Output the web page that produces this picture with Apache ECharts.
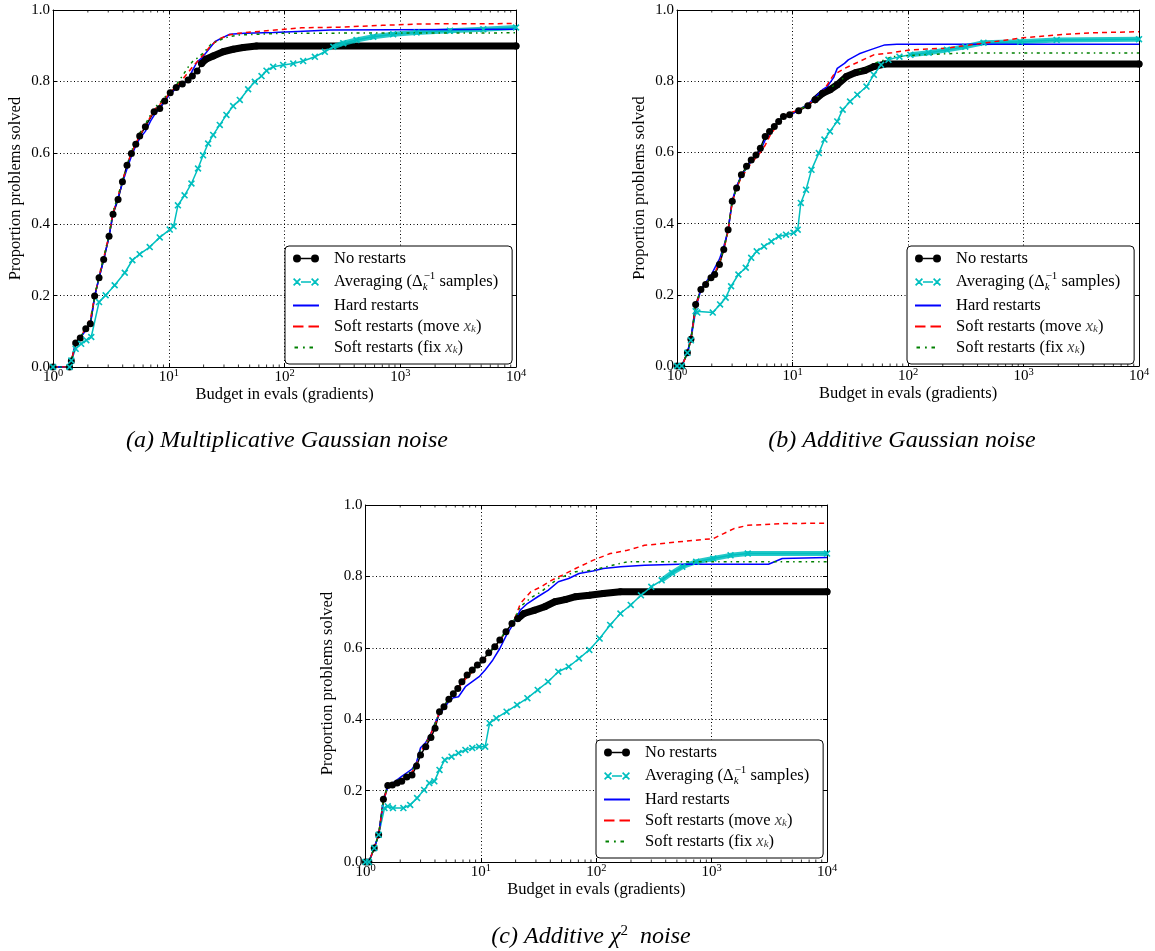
<!DOCTYPE html>
<html><head><meta charset="utf-8">
<script src="https://cdn.jsdelivr.net/npm/echarts@6/dist/echarts.min.js"></script>
<style>html,body{margin:0;padding:0;background:#fff}#c{width:1155px;height:951px}</style>
</head><body><div id="c"></div>
<script>
// ---------------- DATA ----------------
const seriesNames = ['No restarts', 'Averaging', 'Hard restarts', 'Soft restarts (move)', 'Soft restarts (fix)'];
const yTickLabels = ['0.0', '0.2', '0.4', '0.6', '0.8', '1.0'];
const captions = ['(a) Multiplicative Gaussian noise', '(b) Additive Gaussian noise', '(c) Additive χ2 noise'];
const xAxisTitle = 'Budget in evals (gradients)';
const yAxisTitle = 'Proportion problems solved';
const minorTickMultipliers = [2, 3, 4, 5, 6, 7, 8, 9];
const decades = [1, 10, 100, 1000];

// (a) Multiplicative Gaussian noise
const noRestartsA = [[1,0],[1.39,0],[1.44,0.017],[1.57,0.067],[1.72,0.081],[1.92,0.107],[2.10,0.121],[2.29,0.199],[2.50,0.250],[2.74,0.301],[3.05,0.366],[3.30,0.428],[3.65,0.469],[3.98,0.519],[4.36,0.565],[4.76,0.598],[5.19,0.624],[5.61,0.647],[6.28,0.673],[7.47,0.715],[8.36,0.724],[9.23,0.745],[10.3,0.768],[11.6,0.783],[13.1,0.793],[14.7,0.804],[16.0,0.815],[17.6,0.829],[19.2,0.850],[20.9,0.862],[24.2,0.871],[29.5,0.883],[36.0,0.890],[44.0,0.895],[57.3,0.899],[10000,0.899]];
const averagingA = [[1,0],[1.39,0],[1.44,0.018],[1.57,0.051],[1.75,0.065],[1.94,0.075],[2.14,0.084],[2.50,0.182],[2.85,0.201],[3.41,0.229],[4.17,0.264],[4.85,0.299],[5.61,0.316],[6.85,0.336],[8.36,0.363],[10.2,0.385],[11.0,0.394],[12.0,0.453],[13.7,0.481],[15.7,0.514],[17.9,0.556],[19.8,0.593],[21.9,0.626],[24.2,0.650],[27.6,0.678],[31.5,0.706],[36.0,0.731],[41.1,0.748],[48.5,0.778],[55.4,0.799],[63.3,0.815],[69.9,0.830],[79.8,0.841],[97.3,0.846],[119,0.850],[145,0.857],[183,0.869],[223,0.883],[264,0.897],[322,0.907],[419,0.916],[584,0.925],[869,0.932],[1384,0.937],[2688,0.942],[5220,0.946],[10000,0.951]];
const hardA = [[1,0],[1.39,0],[1.45,0.02],[1.57,0.065],[1.75,0.085],[1.95,0.105],[2.12,0.125],[2.3,0.2],[2.5,0.25],[2.74,0.3],[3.05,0.365],[3.3,0.43],[3.65,0.475],[3.98,0.515],[4.36,0.555],[4.76,0.59],[5.19,0.62],[5.61,0.64],[6.28,0.66],[7.0,0.69],[7.47,0.705],[8.36,0.725],[9.23,0.745],[10.3,0.765],[11.6,0.78],[13.1,0.79],[14.7,0.805],[16.0,0.83],[17.6,0.855],[19.2,0.865],[21,0.88],[25,0.911],[28,0.92],[33.7,0.932],[45,0.935],[80,0.937],[130,0.94],[250,0.944],[10000,0.946]];
const softMoveA = [[1,0],[1.39,0],[1.45,0.02],[1.57,0.07],[1.75,0.09],[1.95,0.11],[2.12,0.14],[2.3,0.2],[2.5,0.255],[2.74,0.305],[3.05,0.37],[3.3,0.43],[3.65,0.48],[3.98,0.52],[4.36,0.565],[4.76,0.6],[5.19,0.625],[5.61,0.65],[6.28,0.675],[7.47,0.72],[8.36,0.735],[9.23,0.75],[10.3,0.77],[11.6,0.785],[13.1,0.805],[14.7,0.825],[16.0,0.84],[17.6,0.855],[20,0.875],[23,0.9],[27,0.918],[33,0.93],[40,0.935],[60,0.94],[90,0.945],[140,0.95],[300,0.952],[700,0.957],[1500,0.961],[10000,0.962]];
const softFixA = [[1,0],[1.39,0],[1.45,0.02],[1.57,0.068],[1.75,0.088],[1.95,0.108],[2.12,0.13],[2.3,0.2],[2.5,0.255],[2.74,0.305],[3.05,0.37],[3.3,0.435],[3.65,0.48],[3.98,0.52],[4.36,0.565],[4.76,0.605],[5.19,0.63],[5.61,0.655],[6.28,0.68],[7.47,0.725],[8.36,0.74],[9.23,0.755],[10.3,0.775],[11.6,0.79],[13.1,0.815],[14.7,0.84],[16.0,0.855],[17.6,0.865],[20,0.88],[23,0.903],[27,0.915],[33,0.925],[40,0.93],[60,0.932],[100,0.935],[10000,0.936]];

// (b) Additive Gaussian noise
const noRestartsB = [[1,0],[1.10,0],[1.23,0.037],[1.32,0.075],[1.45,0.173],[1.61,0.215],[1.77,0.229],[1.97,0.248],[2.12,0.257],[2.33,0.285],[2.54,0.327],[2.77,0.383],[3.01,0.463],[3.28,0.500],[3.61,0.537],[4.00,0.561],[4.39,0.579],[4.83,0.593],[5.27,0.612],[5.80,0.645],[6.33,0.659],[6.96,0.673],[7.59,0.687],[8.35,0.701],[9.45,0.706],[11.3,0.717],[13.6,0.731],[15.7,0.748],[18.2,0.766],[21.1,0.776],[24.4,0.790],[29.3,0.813],[35.1,0.824],[42.2,0.830],[50.6,0.841],[62.9,0.848],[10000,0.848]];
const averagingB = [[1,0],[1.10,0],[1.23,0.037],[1.32,0.072],[1.45,0.154],[1.50,0.15],[2.04,0.15],[2.36,0.173],[2.64,0.192],[2.94,0.224],[3.40,0.257],[3.94,0.276],[4.39,0.304],[4.90,0.322],[5.67,0.336],[6.56,0.350],[7.59,0.364],[8.79,0.369],[10.2,0.374],[11.1,0.383],[11.8,0.458],[13.1,0.495],[14.6,0.551],[16.9,0.598],[18.9,0.636],[21.1,0.659],[24.4,0.687],[27.2,0.720],[31.5,0.743],[36.4,0.762],[43.7,0.785],[50.6,0.818],[58.5,0.846],[67.7,0.860],[84.3,0.869],[105,0.874],[151,0.880],[217,0.888],[313,0.897],[451,0.908],[935,0.911],[1937,0.916],[10000,0.918]];
const hardB = [[1,0],[1.10,0],[1.23,0.037],[1.32,0.08],[1.45,0.16],[1.61,0.215],[1.77,0.235],[1.97,0.255],[2.12,0.275],[2.33,0.3],[2.54,0.336],[2.77,0.38],[3.01,0.465],[3.28,0.505],[3.61,0.535],[4.00,0.555],[4.39,0.575],[4.83,0.59],[5.27,0.605],[5.80,0.635],[6.33,0.65],[6.96,0.67],[7.59,0.69],[8.35,0.7],[9.45,0.703],[11.3,0.72],[13.6,0.735],[15.7,0.755],[18.2,0.776],[20,0.785],[22.7,0.81],[24.4,0.836],[28.2,0.85],[30.4,0.86],[37.8,0.877],[47.0,0.888],[62.9,0.902],[80,0.904],[10000,0.904]];
const softMoveB = [[1,0],[1.10,0],[1.23,0.035],[1.32,0.075],[1.45,0.165],[1.61,0.215],[1.77,0.232],[1.97,0.25],[2.12,0.262],[2.33,0.29],[2.54,0.325],[2.77,0.38],[3.01,0.46],[3.28,0.5],[3.61,0.53],[4.00,0.55],[4.39,0.57],[4.83,0.585],[5.27,0.6],[5.80,0.62],[6.33,0.645],[6.96,0.665],[7.59,0.685],[8.35,0.7],[9.45,0.71],[11.3,0.72],[13.6,0.733],[15.7,0.75],[18.2,0.77],[20,0.79],[22.7,0.818],[28.2,0.836],[37.8,0.855],[50.6,0.874],[72.8,0.880],[105,0.888],[217,0.893],[451,0.907],[935,0.921],[1937,0.930],[4018,0.936],[10000,0.939]];
const softFixB = [[1,0],[1.10,0],[1.23,0.037],[1.32,0.075],[1.45,0.17],[1.61,0.215],[1.77,0.23],[1.97,0.25],[2.12,0.26],[2.33,0.29],[2.54,0.33],[2.77,0.385],[3.01,0.465],[3.28,0.5],[3.61,0.535],[4.00,0.557],[4.39,0.575],[4.83,0.59],[5.27,0.61],[5.80,0.64],[6.33,0.655],[6.96,0.672],[7.59,0.688],[8.35,0.7],[9.45,0.708],[11.3,0.72],[13.6,0.733],[15.7,0.75],[18.2,0.768],[21.1,0.78],[24.4,0.795],[29.3,0.815],[35.1,0.826],[42.2,0.835],[50.6,0.85],[62.9,0.86],[72.8,0.869],[151,0.875],[300,0.879],[10000,0.879]];

// (c) Additive chi^2 noise
const noRestartsC = [[1,0],[1.07,0],[1.19,0.039],[1.30,0.076],[1.43,0.176],[1.56,0.214],[1.71,0.216],[1.88,0.221],[2.06,0.226],[2.28,0.238],[2.53,0.244],[2.77,0.269],[3.00,0.300],[3.33,0.323],[3.69,0.349],[4.01,0.375],[4.38,0.421],[4.79,0.435],[5.28,0.456],[5.77,0.471],[6.31,0.486],[6.85,0.505],[7.60,0.524],[8.42,0.538],[9.33,0.552],[10.4,0.566],[11.7,0.586],[13.2,0.603],[14.6,0.622],[16.5,0.645],[18.6,0.668],[20.9,0.682],[23.6,0.696],[29.0,0.705],[35.7,0.715],[43.8,0.729],[53.8,0.735],[66.2,0.743],[87.1,0.747],[115,0.752],[162,0.757],[10000,0.757]];
const averagingC = [[1,0],[1.07,0],[1.19,0.039],[1.30,0.076],[1.46,0.151],[1.56,0.156],[1.73,0.151],[2.13,0.151],[2.44,0.160],[2.80,0.179],[3.22,0.202],[3.57,0.221],[3.95,0.226],[4.38,0.258],[4.86,0.286],[5.57,0.295],[6.40,0.305],[7.34,0.314],[8.42,0.319],[9.66,0.323],[10.9,0.323],[11.9,0.389],[13.6,0.403],[16.7,0.421],[20.6,0.440],[25.3,0.459],[31.1,0.482],[38.2,0.505],[46.9,0.533],[57.7,0.547],[70.9,0.570],[87.1,0.594],[107,0.626],[132,0.664],[162,0.696],[199,0.720],[244,0.747],[300,0.771],[369,0.789],[454,0.810],[557,0.827],[734,0.841],[1035,0.850],[1459,0.859],[2057,0.864],[10000,0.864]];
const hardC = [[1,0],[1.07,0],[1.19,0.039],[1.30,0.076],[1.43,0.17],[1.56,0.21],[1.71,0.22],[1.88,0.23],[2.06,0.24],[2.28,0.25],[2.53,0.26],[2.77,0.28],[3.00,0.32],[3.33,0.335],[3.69,0.36],[4.01,0.39],[4.38,0.415],[4.79,0.43],[5.28,0.45],[5.77,0.46],[6.40,0.463],[7.34,0.491],[8.42,0.505],[9.66,0.519],[10.9,0.538],[12.7,0.566],[14.6,0.598],[16.7,0.636],[19.2,0.668],[22.0,0.706],[25.3,0.724],[31.1,0.743],[38.2,0.761],[46.9,0.785],[57.7,0.794],[70.9,0.808],[93.3,0.815],[115,0.822],[162,0.827],[262,0.831],[520,0.834],[3112,0.834],[4093,0.850],[10000,0.853]];
const softMoveC = [[1,0],[1.07,0],[1.19,0.039],[1.30,0.076],[1.43,0.17],[1.56,0.212],[1.71,0.215],[1.88,0.222],[2.06,0.232],[2.28,0.242],[2.53,0.252],[2.77,0.275],[3.00,0.31],[3.33,0.33],[3.69,0.36],[4.01,0.385],[4.38,0.42],[4.79,0.435],[5.28,0.455],[5.77,0.47],[6.31,0.485],[6.85,0.5],[7.60,0.518],[8.42,0.532],[9.33,0.548],[10.4,0.562],[11.7,0.58],[13.2,0.6],[14.6,0.62],[16.5,0.645],[19.2,0.672],[22.0,0.724],[27.1,0.757],[33.3,0.771],[40.9,0.789],[50.3,0.803],[66.2,0.822],[93.3,0.845],[132,0.864],[186,0.873],[262,0.887],[520,0.897],[1035,0.906],[1271,0.920],[1563,0.934],[2057,0.943],[4093,0.948],[10000,0.949]];
const softFixC = [[1,0],[1.07,0],[1.19,0.039],[1.30,0.076],[1.43,0.172],[1.56,0.215],[1.71,0.22],[1.88,0.228],[2.06,0.235],[2.28,0.245],[2.53,0.255],[2.77,0.278],[3.00,0.315],[3.33,0.333],[3.69,0.36],[4.01,0.388],[4.38,0.42],[4.79,0.438],[5.28,0.458],[5.77,0.472],[6.31,0.488],[6.85,0.502],[7.60,0.52],[8.42,0.535],[9.33,0.55],[10.4,0.565],[11.7,0.583],[13.2,0.603],[14.6,0.623],[16.5,0.648],[19.2,0.675],[22.0,0.715],[27.1,0.74],[33.3,0.757],[40.9,0.78],[46.9,0.794],[66.2,0.813],[93.3,0.817],[115,0.825],[186,0.841],[10000,0.841]];

// ---------------- CHART ----------------
const FONT = 'Liberation Serif';
const panels = [
  { grid: {left: 53, top: 10, width: 463, height: 357}, legend: {left: 285, top: 246}, denseBlack: 18, denseCyan: 250,
    data: [noRestartsA, averagingA, hardA, softMoveA, softFixA] },
  { grid: {left: 677, top: 10, width: 462, height: 356}, legend: {left: 907, top: 246}, denseBlack: 15, denseCyan: 100,
    data: [noRestartsB, averagingB, hardB, softMoveB, softFixB] },
  { grid: {left: 365.5, top: 505, width: 461.5, height: 357}, legend: {left: 596, top: 740}, denseBlack: 19, denseCyan: 350,
    data: [noRestartsC, averagingC, hardC, softMoveC, softFixC] }
];
const colors = ['#000000', '#00bfbf', '#0000ff', '#ff0000', '#008000'];
const minorTicks = decades.flatMap(d => minorTickMultipliers.map(m => m * d));
const X_MARK = 'path://M0,1.3L1.3,0L8,6.7L6.7,8Z M6.7,0L8,1.3L1.3,8L0,6.7Z';
const DOT = 'M0,0h0.02v0.02h-0.02Z M0,7.98h0.02v0.02h-0.02Z M26,7.98h0.02v0.02h-0.02Z ';
const icons = [
  'path://M0,4A4,4,0,1,1,8,4A4,4,0,1,1,0,4Z M8,3.2H18V4.8H8Z M18,4A4,4,0,1,1,26,4A4,4,0,1,1,18,4Z',
  'path://M0,1.2L1.2,0L8,6.8L6.8,8Z M6.8,0L8,1.2L1.2,8L0,6.8Z M8,3.25H18V4.75H8Z M18,1.2L19.2,0L26,6.8L24.8,8Z M24.8,0L26,1.2L19.2,8L18,6.8Z',
  'path://' + DOT + 'M0,3.1H26V4.9H0Z',
  'path://' + DOT + 'M0,3.1H10.5V4.9H0Z M15.5,3.1H26V4.9H15.5Z',
  'path://' + DOT + 'M1.5,3.1H5V4.9H1.5Z M10,3.1H11.8V4.9H10Z M16.5,3.1H20V4.9H16.5Z'
];
const legendText = {
  'No restarts': '{t|No restarts}',
  'Averaging': '{t2|Averaging (Δ}{sub|k}{sup|−1}{t2| samples)}',
  'Hard restarts': '{t|Hard restarts}',
  'Soft restarts (move)': '{t|Soft restarts (move }{mi|x}{mis|k}{t|)}',
  'Soft restarts (fix)': '{t|Soft restarts (fix }{mi|x}{mis|k}{t|)}'
};
const legendRich = {
  t: {fontFamily: FONT, fontSize: 16.5, lineHeight: 16, color: '#000'},
  t2: {fontFamily: FONT, fontSize: 16.5, lineHeight: 22, color: '#000'},
  sub: {fontFamily: FONT, fontSize: 11, fontStyle: 'italic', lineHeight: 9, verticalAlign: 'bottom', width: 1, color: '#000'},
  sup: {fontFamily: FONT, fontSize: 11, lineHeight: 9, verticalAlign: 'top', color: '#000'},
  mi: {fontFamily: FONT, fontSize: 16.5, fontStyle: 'italic', lineHeight: 16, color: '#444'},
  mis: {fontFamily: FONT, fontSize: 11, fontStyle: 'italic', lineHeight: 7, verticalAlign: 'bottom', color: '#444'}
};
const capRich = {
  i: {fontFamily: FONT, fontSize: 24, fontStyle: 'italic', fontWeight: 'normal', color: '#000', lineHeight: 26},
  g: {fontFamily: FONT, fontSize: 24, fontStyle: 'italic', fontWeight: 'normal', color: '#000', lineHeight: 26},
  s: {fontFamily: FONT, fontSize: 15, fontWeight: 'normal', color: '#000', verticalAlign: 'top', lineHeight: 12}
};

const option = {
  animation: false,
  backgroundColor: '#fff',
  title: [
    {text: '{i|' + captions[0] + '}', left: 287, top: 428},
    {text: '{i|' + captions[1] + '}', left: 902, top: 428},
    {text: '{i|(c) Additive }{g|χ}{s|2}{i|  noise}', left: 591, top: 924}
  ].map(t => Object.assign(t, {textAlign: 'center', padding: 0,
    textStyle: {fontWeight: 'normal', fontFamily: FONT, rich: capRich}})),
  grid: panels.map(p => Object.assign({containLabel: false, outerBoundsMode: 'none'}, p.grid)),
  legend: panels.map((p, gi) => ({
    left: p.legend.left, top: p.legend.top, orient: 'vertical',
    data: seriesNames.map((n, k) => ({name: n, icon: icons[k], itemStyle: {color: colors[k], borderWidth: 0}})),
    itemWidth: 26, itemHeight: 8, itemGap: 4,
    padding: [4, 14, 8, 8],
    backgroundColor: '#fff', borderColor: '#000', borderWidth: 1, borderRadius: 4,
    selectedMode: false,
    formatter: n => legendText[n],
    textStyle: {padding: [0, 0, 0, 10], rich: legendRich}
  })),
  xAxis: panels.flatMap((p, gi) => [
    {gridIndex: gi, type: 'log', logBase: 10, min: 1, max: 10000, position: 'bottom',
     name: xAxisTitle, nameLocation: 'middle', nameGap: 17,
     nameTextStyle: {fontFamily: FONT, fontSize: 16.5, color: '#000'},
     axisLine: {show: true, onZero: false, lineStyle: {color: '#000', width: 1}},
     axisTick: {show: true, inside: true, length: 4, lineStyle: {color: '#000'}},
     minorTick: {show: false},
     axisLabel: {show: true, margin: 1, color: '#000',
       formatter: v => '{b|10}{s|' + Math.round(Math.log10(v)) + '}',
       rich: {b: {fontFamily: FONT, fontSize: 15, lineHeight: 17, verticalAlign: 'bottom', color: '#000'},
              s: {fontFamily: FONT, fontSize: 10.5, lineHeight: 8, verticalAlign: 'top', color: '#000'}}},
     splitLine: {show: true, lineStyle: {color: '#000', width: 1, type: [1, 2.5]}}},
    {gridIndex: gi, type: 'log', logBase: 10, min: 1, max: 10000, position: 'top',
     axisLine: {show: true, onZero: false, lineStyle: {color: '#000', width: 1}},
     axisTick: {show: true, inside: true, length: 4, lineStyle: {color: '#000'}},
     axisLabel: {show: false}, splitLine: {show: false}}
  ]),
  yAxis: panels.flatMap((p, gi) => [
    {gridIndex: gi, type: 'value', min: 0, max: 1, interval: 0.2, position: 'left',
     name: yAxisTitle, nameLocation: 'middle', nameGap: 29,
     nameTextStyle: {fontFamily: FONT, fontSize: 16.5, color: '#000'},
     axisLine: {show: true, onZero: false, lineStyle: {color: '#000', width: 1}},
     axisTick: {show: true, inside: true, length: 4, lineStyle: {color: '#000'}},
     axisLabel: {show: true, margin: 3, color: '#000', fontFamily: FONT, fontSize: 15,
       formatter: v => yTickLabels[Math.round(v / 0.2)]},
     splitLine: {show: true, lineStyle: {color: '#000', width: 1, type: [1, 2.5]}}},
    {gridIndex: gi, type: 'value', min: 0, max: 1, interval: 0.2, position: 'right',
     axisLine: {show: true, onZero: false, lineStyle: {color: '#000', width: 1}},
     axisTick: {show: true, inside: true, length: 4, lineStyle: {color: '#000'}},
     axisLabel: {show: false}, splitLine: {show: false}}
  ]),
  series: panels.flatMap((p, gi) => {
    const ax = {xAxisIndex: 2 * gi, yAxisIndex: 2 * gi};
    const [nr, av, hr, sm, sf] = p.data;
    return [
      Object.assign({type: 'scatter', silent: true, clip: false, symbol: 'rect', symbolSize: [1, 2.5], symbolOffset: [0, -1.25],
        itemStyle: {color: '#000'}, data: minorTicks.map(v => [v, 0]), z: 1}, ax),
      Object.assign({type: 'scatter', silent: true, clip: false, symbol: 'rect', symbolSize: [1, 2.5], symbolOffset: [0, 1.25],
        itemStyle: {color: '#000'}, data: minorTicks.map(v => [v, 1]), z: 1}, ax),
      // dense black marker band (markers merge into a band)
      Object.assign({type: 'line', silent: true, symbol: 'none', data: nr.filter(d => d[0] >= p.denseBlack),
        lineStyle: {color: '#000', width: 7, cap: 'round', join: 'round'}}, ax),
      Object.assign({name: seriesNames[0], type: 'line', data: nr, symbol: 'circle', symbolSize: 7, showAllSymbol: true,
        itemStyle: {color: '#000', borderWidth: 0}, lineStyle: {color: '#000', width: 1.5}}, ax),
      Object.assign({type: 'line', silent: true, symbol: 'none', data: av.filter(d => d[0] >= p.denseCyan),
        lineStyle: {color: '#00bfbf', width: 5, opacity: 0.85, join: 'round'}}, ax),
      Object.assign({name: seriesNames[1], type: 'line', data: av, symbol: X_MARK, symbolSize: 7, showAllSymbol: true,
        itemStyle: {color: '#00bfbf', borderWidth: 0}, lineStyle: {color: '#00bfbf', width: 1.5}}, ax),
      Object.assign({name: seriesNames[2], type: 'line', data: hr, symbol: 'none',
        itemStyle: {color: '#0000ff'}, lineStyle: {color: '#0000ff', width: 1.5}}, ax),
      Object.assign({name: seriesNames[3], type: 'line', data: sm, symbol: 'none',
        itemStyle: {color: '#ff0000'}, lineStyle: {color: '#ff0000', width: 1.5, type: [5, 4]}}, ax),
      Object.assign({name: seriesNames[4], type: 'line', data: sf, symbol: 'none',
        itemStyle: {color: '#008000'}, lineStyle: {color: '#008000', width: 1.5, type: [3, 4, 1.5, 4]}}, ax)
    ];
  })
};
const chart = echarts.init(document.getElementById('c'), null, {renderer: 'canvas'});
chart.setOption(option);
</script>
</body></html>
